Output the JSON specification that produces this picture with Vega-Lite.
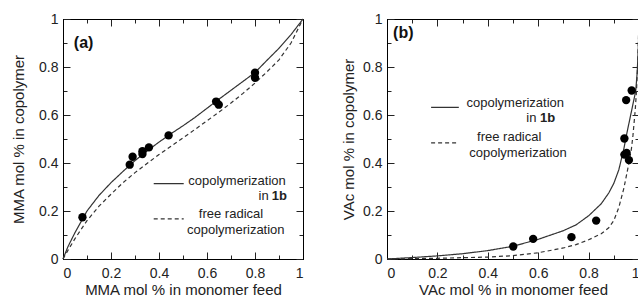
{
  "$schema": "https://vega.github.io/schema/vega-lite/v6.json",
  "background": "white",
  "padding": {"left": 11, "top": 11, "right": 0, "bottom": 0},
  "spacing": 35,
  "config": {
    "view": {"stroke": "black", "strokeWidth": 1},
    "font": "Liberation Sans",
    "axis": {
      "grid": false,
      "domainColor": "black",
      "tickColor": "#222",
      "labelFont": "Liberation Sans",
      "labelFontSize": 14,
      "labelColor": "#222",
      "titleFont": "Liberation Sans",
      "titleFontSize": 15,
      "titleFontWeight": "normal",
      "titleColor": "#222",
      "format": "~g"
    },
    "axisBottom": {"labelPadding": 14, "titlePadding": 2},
    "axisLeft": {"labelPadding": 12}
  },
  "datasets": {
    "curves": [
      {"panel": "a", "series": "copolymerization in 1b", "x": 0, "y": 0},
      {"panel": "a", "series": "copolymerization in 1b", "x": 0.02, "y": 0.05},
      {"panel": "a", "series": "copolymerization in 1b", "x": 0.05, "y": 0.11},
      {"panel": "a", "series": "copolymerization in 1b", "x": 0.1, "y": 0.2},
      {"panel": "a", "series": "copolymerization in 1b", "x": 0.15, "y": 0.265},
      {"panel": "a", "series": "copolymerization in 1b", "x": 0.2, "y": 0.318},
      {"panel": "a", "series": "copolymerization in 1b", "x": 0.25, "y": 0.365},
      {"panel": "a", "series": "copolymerization in 1b", "x": 0.3, "y": 0.41},
      {"panel": "a", "series": "copolymerization in 1b", "x": 0.35, "y": 0.45},
      {"panel": "a", "series": "copolymerization in 1b", "x": 0.4, "y": 0.487},
      {"panel": "a", "series": "copolymerization in 1b", "x": 0.45, "y": 0.522},
      {"panel": "a", "series": "copolymerization in 1b", "x": 0.5, "y": 0.555},
      {"panel": "a", "series": "copolymerization in 1b", "x": 0.55, "y": 0.59},
      {"panel": "a", "series": "copolymerization in 1b", "x": 0.6, "y": 0.628},
      {"panel": "a", "series": "copolymerization in 1b", "x": 0.65, "y": 0.666},
      {"panel": "a", "series": "copolymerization in 1b", "x": 0.7, "y": 0.703},
      {"panel": "a", "series": "copolymerization in 1b", "x": 0.75, "y": 0.74},
      {"panel": "a", "series": "copolymerization in 1b", "x": 0.8, "y": 0.777},
      {"panel": "a", "series": "copolymerization in 1b", "x": 0.85, "y": 0.828},
      {"panel": "a", "series": "copolymerization in 1b", "x": 0.9, "y": 0.878},
      {"panel": "a", "series": "copolymerization in 1b", "x": 0.95, "y": 0.935},
      {"panel": "a", "series": "copolymerization in 1b", "x": 1, "y": 1},
      {"panel": "a", "series": "free radical copolymerization", "x": 0, "y": 0},
      {"panel": "a", "series": "free radical copolymerization", "x": 0.02, "y": 0.035},
      {"panel": "a", "series": "free radical copolymerization", "x": 0.05, "y": 0.085},
      {"panel": "a", "series": "free radical copolymerization", "x": 0.1, "y": 0.16},
      {"panel": "a", "series": "free radical copolymerization", "x": 0.15, "y": 0.22},
      {"panel": "a", "series": "free radical copolymerization", "x": 0.2, "y": 0.27},
      {"panel": "a", "series": "free radical copolymerization", "x": 0.25, "y": 0.318},
      {"panel": "a", "series": "free radical copolymerization", "x": 0.3, "y": 0.36},
      {"panel": "a", "series": "free radical copolymerization", "x": 0.35, "y": 0.398},
      {"panel": "a", "series": "free radical copolymerization", "x": 0.4, "y": 0.435},
      {"panel": "a", "series": "free radical copolymerization", "x": 0.45, "y": 0.47},
      {"panel": "a", "series": "free radical copolymerization", "x": 0.5, "y": 0.505},
      {"panel": "a", "series": "free radical copolymerization", "x": 0.55, "y": 0.54},
      {"panel": "a", "series": "free radical copolymerization", "x": 0.6, "y": 0.576},
      {"panel": "a", "series": "free radical copolymerization", "x": 0.65, "y": 0.612},
      {"panel": "a", "series": "free radical copolymerization", "x": 0.7, "y": 0.65},
      {"panel": "a", "series": "free radical copolymerization", "x": 0.75, "y": 0.69},
      {"panel": "a", "series": "free radical copolymerization", "x": 0.8, "y": 0.733},
      {"panel": "a", "series": "free radical copolymerization", "x": 0.85, "y": 0.78},
      {"panel": "a", "series": "free radical copolymerization", "x": 0.9, "y": 0.83},
      {"panel": "a", "series": "free radical copolymerization", "x": 0.95, "y": 0.9},
      {"panel": "a", "series": "free radical copolymerization", "x": 1, "y": 1},
      {"panel": "b", "series": "copolymerization in 1b", "x": 0, "y": 0},
      {"panel": "b", "series": "copolymerization in 1b", "x": 0.1, "y": 0.006},
      {"panel": "b", "series": "copolymerization in 1b", "x": 0.2, "y": 0.013},
      {"panel": "b", "series": "copolymerization in 1b", "x": 0.3, "y": 0.022},
      {"panel": "b", "series": "copolymerization in 1b", "x": 0.4, "y": 0.035},
      {"panel": "b", "series": "copolymerization in 1b", "x": 0.5, "y": 0.053},
      {"panel": "b", "series": "copolymerization in 1b", "x": 0.6, "y": 0.082},
      {"panel": "b", "series": "copolymerization in 1b", "x": 0.7, "y": 0.118},
      {"panel": "b", "series": "copolymerization in 1b", "x": 0.75, "y": 0.142},
      {"panel": "b", "series": "copolymerization in 1b", "x": 0.8, "y": 0.18},
      {"panel": "b", "series": "copolymerization in 1b", "x": 0.85, "y": 0.23},
      {"panel": "b", "series": "copolymerization in 1b", "x": 0.88, "y": 0.275},
      {"panel": "b", "series": "copolymerization in 1b", "x": 0.9, "y": 0.315},
      {"panel": "b", "series": "copolymerization in 1b", "x": 0.92, "y": 0.372},
      {"panel": "b", "series": "copolymerization in 1b", "x": 0.94, "y": 0.46},
      {"panel": "b", "series": "copolymerization in 1b", "x": 0.95, "y": 0.515},
      {"panel": "b", "series": "copolymerization in 1b", "x": 0.96, "y": 0.565},
      {"panel": "b", "series": "copolymerization in 1b", "x": 0.97, "y": 0.615},
      {"panel": "b", "series": "copolymerization in 1b", "x": 0.98, "y": 0.665},
      {"panel": "b", "series": "copolymerization in 1b", "x": 0.987, "y": 0.7},
      {"panel": "b", "series": "copolymerization in 1b", "x": 0.993, "y": 0.78},
      {"panel": "b", "series": "copolymerization in 1b", "x": 0.998, "y": 0.9},
      {"panel": "b", "series": "copolymerization in 1b", "x": 1, "y": 1},
      {"panel": "b", "series": "free radical copolymerization", "x": 0, "y": 0},
      {"panel": "b", "series": "free radical copolymerization", "x": 0.2, "y": 0.003},
      {"panel": "b", "series": "free radical copolymerization", "x": 0.4, "y": 0.008},
      {"panel": "b", "series": "free radical copolymerization", "x": 0.5, "y": 0.014},
      {"panel": "b", "series": "free radical copolymerization", "x": 0.6, "y": 0.026},
      {"panel": "b", "series": "free radical copolymerization", "x": 0.7, "y": 0.046},
      {"panel": "b", "series": "free radical copolymerization", "x": 0.75, "y": 0.06},
      {"panel": "b", "series": "free radical copolymerization", "x": 0.8, "y": 0.08},
      {"panel": "b", "series": "free radical copolymerization", "x": 0.85, "y": 0.105},
      {"panel": "b", "series": "free radical copolymerization", "x": 0.88, "y": 0.13},
      {"panel": "b", "series": "free radical copolymerization", "x": 0.9, "y": 0.16},
      {"panel": "b", "series": "free radical copolymerization", "x": 0.92, "y": 0.215},
      {"panel": "b", "series": "free radical copolymerization", "x": 0.94, "y": 0.295},
      {"panel": "b", "series": "free radical copolymerization", "x": 0.95, "y": 0.347},
      {"panel": "b", "series": "free radical copolymerization", "x": 0.96, "y": 0.4},
      {"panel": "b", "series": "free radical copolymerization", "x": 0.97, "y": 0.46},
      {"panel": "b", "series": "free radical copolymerization", "x": 0.976, "y": 0.515},
      {"panel": "b", "series": "free radical copolymerization", "x": 0.985, "y": 0.62},
      {"panel": "b", "series": "free radical copolymerization", "x": 0.99, "y": 0.7},
      {"panel": "b", "series": "free radical copolymerization", "x": 0.995, "y": 0.82},
      {"panel": "b", "series": "free radical copolymerization", "x": 1, "y": 1}
    ],
    "dots": [
      {"panel": "a", "x": 0.081, "y": 0.174},
      {"panel": "a", "x": 0.278, "y": 0.393},
      {"panel": "a", "x": 0.29, "y": 0.426},
      {"panel": "a", "x": 0.331, "y": 0.437},
      {"panel": "a", "x": 0.331, "y": 0.449},
      {"panel": "a", "x": 0.358, "y": 0.465},
      {"panel": "a", "x": 0.44, "y": 0.515},
      {"panel": "a", "x": 0.638, "y": 0.656},
      {"panel": "a", "x": 0.649, "y": 0.643},
      {"panel": "a", "x": 0.8, "y": 0.776},
      {"panel": "a", "x": 0.8, "y": 0.755},
      {"panel": "b", "x": 0.501, "y": 0.052},
      {"panel": "b", "x": 0.58, "y": 0.084},
      {"panel": "b", "x": 0.732, "y": 0.091},
      {"panel": "b", "x": 0.83, "y": 0.16},
      {"panel": "b", "x": 0.942, "y": 0.502},
      {"panel": "b", "x": 0.942, "y": 0.435},
      {"panel": "b", "x": 0.951, "y": 0.442},
      {"panel": "b", "x": 0.96, "y": 0.412},
      {"panel": "b", "x": 0.949, "y": 0.662},
      {"panel": "b", "x": 0.971, "y": 0.702}
    ],
    "keys": [
      {"panel": "a", "series": "copolymerization in 1b", "x": 0.378, "x2": 0.503, "y": 0.314},
      {"panel": "a", "series": "free radical copolymerization", "x": 0.378, "x2": 0.503, "y": 0.167},
      {"panel": "b", "series": "copolymerization in 1b", "x": 0.175, "x2": 0.285, "y": 0.632},
      {"panel": "b", "series": "free radical copolymerization", "x": 0.175, "x2": 0.285, "y": 0.484}
    ],
    "notes": [
      {"panel": "a", "kind": "legend", "x": 0.725, "y": 0.325, "text": "copolymerization"},
      {"panel": "a", "kind": "legend", "x": 0.836, "y": 0.264, "text": "in"},
      {"panel": "a", "kind": "emphasis", "x": 0.901, "y": 0.264, "text": "1b"},
      {"panel": "a", "kind": "legend", "x": 0.70, "y": 0.1875, "text": "free radical"},
      {"panel": "a", "kind": "legend", "x": 0.72, "y": 0.121, "text": "copolymerization"},
      {"panel": "a", "kind": "panel", "x": 0.045, "y": 0.9, "text": "(a)"},
      {"panel": "b", "kind": "legend", "x": 0.509, "y": 0.651, "text": "copolymerization"},
      {"panel": "b", "kind": "legend", "x": 0.573, "y": 0.586, "text": "in"},
      {"panel": "b", "kind": "emphasis", "x": 0.637, "y": 0.586, "text": "1b"},
      {"panel": "b", "kind": "legend", "x": 0.485, "y": 0.509, "text": "free radical"},
      {"panel": "b", "kind": "legend", "x": 0.52, "y": 0.4435, "text": "copolymerization"},
      {"panel": "b", "kind": "panel", "x": 0.024, "y": 0.94, "text": "(b)"}
    ]
  },
  "hconcat": [
    {
      "width": 240,
      "height": 240,
      "resolve": {"axis": {"x": "independent", "y": "independent"}},
      "layer": [
        {
          "data": {"name": "curves"},
          "transform": [{"filter": "datum.panel == 'a'"}],
          "mark": {"type": "line", "color": "#333", "strokeWidth": 1.2},
          "encoding": {
            "x": {"field": "x", "type": "quantitative", "scale": {"domain": [0, 1], "nice": false}, "axis": {"title": "MMA mol % in monomer feed", "orient": "bottom", "values": [0, 0.2, 0.4, 0.6, 0.8, 1], "tickSize": -7}},
            "y": {"field": "y", "type": "quantitative", "scale": {"domain": [0, 1], "nice": false}, "axis": {"title": "MMA mol % in copolymer", "orient": "left", "values": [0, 0.2, 0.4, 0.6, 0.8, 1], "tickSize": -7, "titlePadding": 12}},
            "strokeDash": {"field": "series", "type": "nominal", "scale": {"domain": ["copolymerization in 1b", "free radical copolymerization"], "range": [[1, 0], [4, 3]]}, "legend": null}
          }
        },
        {
          "data": {"name": "dots"},
          "transform": [{"filter": "datum.panel == 'a'"}],
          "mark": {"type": "circle", "color": "black", "opacity": 1, "size": 70},
          "encoding": {
            "x": {"field": "x", "type": "quantitative", "scale": {"domain": [0, 1], "nice": false}, "axis": {"title": null, "orient": "top", "labels": false, "values": [0, 0.2, 0.4, 0.6, 0.8, 1], "tickSize": -7}},
            "y": {"field": "y", "type": "quantitative", "scale": {"domain": [0, 1], "nice": false}, "axis": {"title": null, "orient": "right", "labels": false, "values": [0, 0.2, 0.4, 0.6, 0.8, 1], "tickSize": -7}}
          }
        },
        {
          "data": {"name": "keys"},
          "transform": [{"filter": "datum.panel == 'a'"}],
          "mark": {"type": "rule", "color": "#333", "strokeWidth": 1.2},
          "encoding": {
            "x": {"field": "x", "type": "quantitative", "scale": {"domain": [0, 1], "nice": false}, "axis": {"title": null, "orient": "bottom", "labels": false, "values": [0.1, 0.3, 0.5, 0.7, 0.9], "tickSize": -4}},
            "x2": {"field": "x2"},
            "y": {"field": "y", "type": "quantitative", "scale": {"domain": [0, 1], "nice": false}, "axis": {"title": null, "orient": "left", "labels": false, "values": [0.1, 0.3, 0.5, 0.7, 0.9], "tickSize": -4}},
            "strokeDash": {"field": "series", "type": "nominal", "scale": {"domain": ["copolymerization in 1b", "free radical copolymerization"], "range": [[1, 0], [4, 3]]}, "legend": null}
          }
        },
        {
          "data": {"name": "notes"},
          "transform": [{"filter": "datum.panel == 'a' && datum.kind == 'legend'"}],
          "mark": {"type": "text", "align": "center", "baseline": "middle", "fontSize": 13, "color": "#222"},
          "encoding": {
            "x": {"field": "x", "type": "quantitative", "scale": {"domain": [0, 1], "nice": false}, "axis": {"title": null, "orient": "top", "labels": false, "values": [0.1, 0.3, 0.5, 0.7, 0.9], "tickSize": -4}},
            "y": {"field": "y", "type": "quantitative", "scale": {"domain": [0, 1], "nice": false}, "axis": {"title": null, "orient": "right", "labels": false, "values": [0.1, 0.3, 0.5, 0.7, 0.9], "tickSize": -4}},
            "text": {"field": "text"}
          }
        },
        {
          "data": {"name": "notes"},
          "transform": [{"filter": "datum.panel == 'a' && datum.kind == 'emphasis'"}],
          "mark": {"type": "text", "align": "center", "baseline": "middle", "fontSize": 13, "fontWeight": "bold", "color": "#222"},
          "encoding": {
            "x": {"field": "x", "type": "quantitative", "axis": null},
            "y": {"field": "y", "type": "quantitative", "axis": null},
            "text": {"field": "text"}
          }
        },
        {
          "data": {"name": "notes"},
          "transform": [{"filter": "datum.panel == 'a' && datum.kind == 'panel'"}],
          "mark": {"type": "text", "align": "left", "baseline": "middle", "fontSize": 16, "fontWeight": "bold", "color": "#111"},
          "encoding": {
            "x": {"field": "x", "type": "quantitative", "axis": null},
            "y": {"field": "y", "type": "quantitative", "axis": null},
            "text": {"field": "text"}
          }
        }
      ]
    },
    {
      "width": 252,
      "height": 240,
      "resolve": {"axis": {"x": "independent", "y": "independent"}},
      "layer": [
        {
          "data": {"name": "curves"},
          "transform": [{"filter": "datum.panel == 'b'"}],
          "mark": {"type": "line", "color": "#333", "strokeWidth": 1.2},
          "encoding": {
            "x": {"field": "x", "type": "quantitative", "scale": {"domain": [0, 1], "nice": false}, "axis": {"title": "VAc mol % in monomer feed", "orient": "bottom", "values": [0, 0.2, 0.4, 0.6, 0.8, 1], "tickSize": -7}},
            "y": {"field": "y", "type": "quantitative", "scale": {"domain": [0, 1], "nice": false}, "axis": {"title": "VAc mol % in copolymer", "orient": "left", "values": [0, 0.2, 0.4, 0.6, 0.8, 1], "tickSize": -7, "titlePadding": 6}},
            "strokeDash": {"field": "series", "type": "nominal", "scale": {"domain": ["copolymerization in 1b", "free radical copolymerization"], "range": [[1, 0], [4, 3]]}, "legend": null}
          }
        },
        {
          "data": {"name": "dots"},
          "transform": [{"filter": "datum.panel == 'b'"}],
          "mark": {"type": "circle", "color": "black", "opacity": 1, "size": 70},
          "encoding": {
            "x": {"field": "x", "type": "quantitative", "scale": {"domain": [0, 1], "nice": false}, "axis": {"title": null, "orient": "top", "labels": false, "values": [0, 0.2, 0.4, 0.6, 0.8, 1], "tickSize": -7}},
            "y": {"field": "y", "type": "quantitative", "scale": {"domain": [0, 1], "nice": false}, "axis": {"title": null, "orient": "right", "labels": false, "values": [0, 0.2, 0.4, 0.6, 0.8, 1], "tickSize": -7}}
          }
        },
        {
          "data": {"name": "keys"},
          "transform": [{"filter": "datum.panel == 'b'"}],
          "mark": {"type": "rule", "color": "#333", "strokeWidth": 1.2},
          "encoding": {
            "x": {"field": "x", "type": "quantitative", "scale": {"domain": [0, 1], "nice": false}, "axis": {"title": null, "orient": "bottom", "labels": false, "values": [0.1, 0.3, 0.5, 0.7, 0.9], "tickSize": -4}},
            "x2": {"field": "x2"},
            "y": {"field": "y", "type": "quantitative", "scale": {"domain": [0, 1], "nice": false}, "axis": {"title": null, "orient": "left", "labels": false, "values": [0.1, 0.3, 0.5, 0.7, 0.9], "tickSize": -4}},
            "strokeDash": {"field": "series", "type": "nominal", "scale": {"domain": ["copolymerization in 1b", "free radical copolymerization"], "range": [[1, 0], [4, 3]]}, "legend": null}
          }
        },
        {
          "data": {"name": "notes"},
          "transform": [{"filter": "datum.panel == 'b' && datum.kind == 'legend'"}],
          "mark": {"type": "text", "align": "center", "baseline": "middle", "fontSize": 13, "color": "#222"},
          "encoding": {
            "x": {"field": "x", "type": "quantitative", "scale": {"domain": [0, 1], "nice": false}, "axis": {"title": null, "orient": "top", "labels": false, "values": [0.1, 0.3, 0.5, 0.7, 0.9], "tickSize": -4}},
            "y": {"field": "y", "type": "quantitative", "scale": {"domain": [0, 1], "nice": false}, "axis": {"title": null, "orient": "right", "labels": false, "values": [0.1, 0.3, 0.5, 0.7, 0.9], "tickSize": -4}},
            "text": {"field": "text"}
          }
        },
        {
          "data": {"name": "notes"},
          "transform": [{"filter": "datum.panel == 'b' && datum.kind == 'emphasis'"}],
          "mark": {"type": "text", "align": "center", "baseline": "middle", "fontSize": 13, "fontWeight": "bold", "color": "#222"},
          "encoding": {
            "x": {"field": "x", "type": "quantitative", "axis": null},
            "y": {"field": "y", "type": "quantitative", "axis": null},
            "text": {"field": "text"}
          }
        },
        {
          "data": {"name": "notes"},
          "transform": [{"filter": "datum.panel == 'b' && datum.kind == 'panel'"}],
          "mark": {"type": "text", "align": "left", "baseline": "middle", "fontSize": 16, "fontWeight": "bold", "color": "#111"},
          "encoding": {
            "x": {"field": "x", "type": "quantitative", "axis": null},
            "y": {"field": "y", "type": "quantitative", "axis": null},
            "text": {"field": "text"}
          }
        }
      ]
    }
  ]
}
